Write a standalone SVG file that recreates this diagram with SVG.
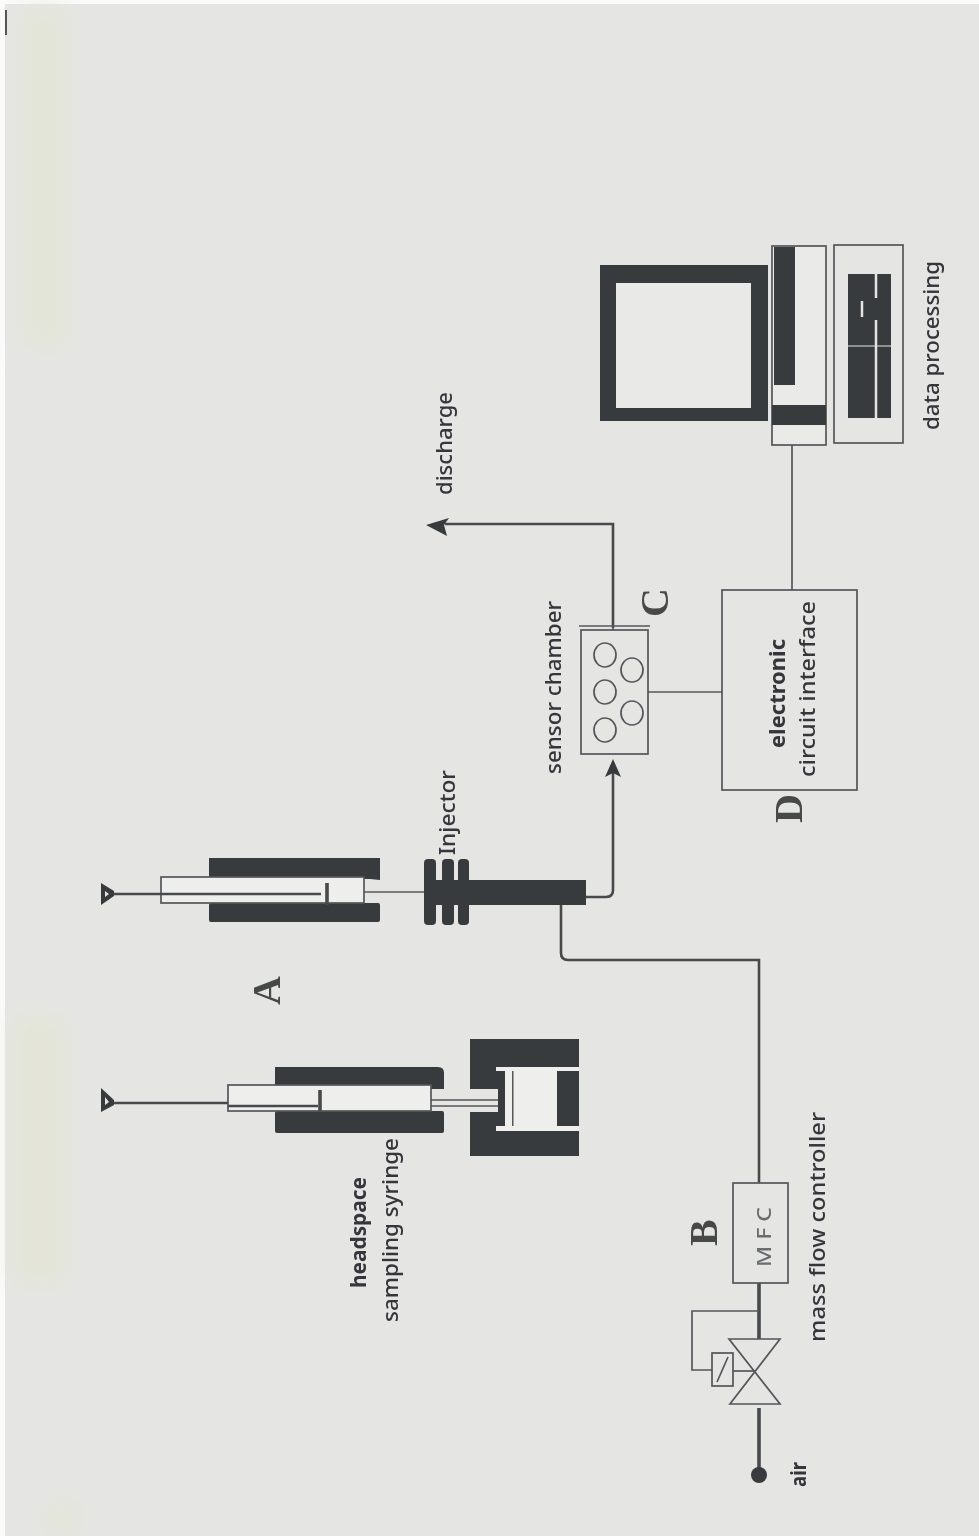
<svg xmlns="http://www.w3.org/2000/svg" width="979" height="1536" viewBox="0 0 979 1536">
<style>
.d{fill:#383a3c}
.bg{fill:#e5e5e4}
.o{fill:#e5e5e4;stroke:#54565a;stroke-width:1.7}
.n{fill:none;stroke:#54565a;stroke-width:1.7}
.w{fill:none;stroke:#46484c;stroke-width:2.6}
.h{fill:none;stroke:#46484c;stroke-width:3.6}
.t{font-family:"Noto Sans","DejaVu Sans",sans-serif;fill:#34363a;font-size:21px;font-weight:500}
.b{font-weight:700}
.l{font-family:"Liberation Serif",serif;fill:#46484a;font-size:40px;font-weight:700}
</style>
<defs>
<filter id="soft" filterUnits="userSpaceOnUse" x="0" y="0" width="979" height="1536"><feGaussianBlur stdDeviation="0.7"/></filter>
<filter id="patch" filterUnits="userSpaceOnUse" x="0" y="0" width="979" height="1536"><feGaussianBlur stdDeviation="12"/></filter>
</defs>
<rect width="979" height="1536" fill="#fbfbfb"/>
<rect class="bg" x="5" y="4" width="974" height="1532"/>
<g fill="#e4e5d8" filter="url(#patch)">
<rect x="22" y="8" width="45" height="340"/>
<rect x="12" y="1015" width="55" height="270"/>
<rect x="45" y="1500" width="35" height="36"/>
</g>
<rect x="5" y="10" width="2" height="25" fill="#55564f"/>
<g filter="url(#soft)">
<g id="connectors">
<path class="w" d="M586 897H606Q613 897 613 890V772"/>
<path class="w" d="M561 904V953Q561 960 568 960H759V1183"/>
<path class="h" d="M759 1283V1339"/>
<path class="h" d="M759 1408V1475"/>
<path class="n" d="M759 1311H692V1370H712"/>
<path class="w" d="M613 628V524H445"/>
<path class="n" d="M648 692H722"/>
<path class="n" d="M792 445V590"/>
<path class="d" d="M426 525L449 518L444 525L447 536Z"/>
<path class="d" d="M613 759L621 777L613 773L605 777Z"/>
</g>
<g id="syringe-injector">
<path class="d" d="M209 858H380V880L370 879H209Z"/>
<rect class="d" x="209" y="903" width="171" height="19" rx="2"/>
<rect class="o" x="161" y="877" width="203" height="26" style="fill:#eeeeec"/>
<path class="d" d="M101 883L114 891V896L101 905ZM105 891V897L109 894Z" fill-rule="evenodd"/>
<path class="w" d="M114 894H321"/>
<path class="h" d="M327 883V905"/>
<path class="n" d="M364 892H424"/>
<rect class="d" x="424" y="859" width="12" height="66" rx="4"/>
<rect class="d" x="442" y="859" width="12" height="66" rx="4"/>
<rect class="d" x="458" y="859" width="11" height="66" rx="4"/>
<rect class="d" x="424" y="880" width="162" height="25"/>
</g>
<g id="headspace-syringe">
<path class="d" d="M275 1067H438Q444 1067 444 1073V1089H275Z"/>
<rect class="d" x="275" y="1111" width="169" height="22" rx="2"/>
<rect class="o" x="228" y="1085" width="203" height="26" style="fill:#eeeeec"/>
<path class="d" d="M101 1088L114 1100V1105L101 1112ZM105 1097V1105L109 1102Z" fill-rule="evenodd"/>
<path class="w" d="M114 1103H228"/>
<path class="w" d="M228 1106H318"/>
<path class="h" d="M320 1090V1111"/>
<path class="n" d="M431 1100H498M431 1106H498"/>
<path class="d" d="M470 1039H579V1156H470V1112H498V1089H470Z"/>
<rect x="496" y="1067" width="83" height="4" fill="#eeeeec"/>
<rect x="496" y="1126" width="83" height="5" fill="#eeeeec"/>
<rect x="505" y="1071" width="7" height="55" fill="#eeeeec"/>
<rect x="513" y="1071" width="44" height="55" fill="#eeeeec"/>
<rect x="512" y="1071" width="1.5" height="55" fill="#54565a"/>
</g>
<g id="sensor-chamber">
<rect class="o" x="581" y="630" width="67" height="124"/>
<path class="n" d="M579 626H650"/>
<path class="n" d="M613 626V630"/>
<ellipse class="n" cx="605" cy="655" rx="11" ry="12"/>
<ellipse class="n" cx="632" cy="670" rx="11" ry="12"/>
<ellipse class="n" cx="605" cy="692" rx="11" ry="12"/>
<ellipse class="n" cx="632" cy="713" rx="11" ry="12"/>
<ellipse class="n" cx="605" cy="730" rx="11" ry="12"/>
</g>
<g id="electronic-circuit">
<rect class="o" x="722" y="590" width="135" height="200"/>
</g>
<g id="monitor">
<rect class="d" x="600" y="265" width="168" height="156"/>
<rect x="616" y="283" width="135" height="125" fill="#e9e9e8"/>
</g>
<g id="computer">
<rect class="o" x="772" y="246" width="54" height="199" style="fill:#eaeae9"/>
<rect class="d" x="774" y="247" width="21" height="138"/>
<rect class="d" x="772" y="405" width="54" height="20"/>
</g>
<g id="keyboard">
<rect class="o" x="834" y="245" width="69" height="198"/>
<rect class="d" x="848" y="274" width="43" height="144"/>
<path d="M876 274V298M876 320V418" stroke="#e5e5e4" stroke-width="2.5" fill="none"/>
<path d="M848 346H891" stroke="#e5e5e4" stroke-width="1.2" fill="none"/>
<path d="M862 301V317" stroke="#e5e5e4" stroke-width="2.5" fill="none"/>
</g>
<g id="mfc">
<rect class="o" x="733" y="1183" width="55" height="100"/>
<text class="t" transform="translate(771 1267) rotate(-90)" textLength="60" lengthAdjust="spacingAndGlyphs" style="font-size:19px;fill:#6a6c6e">M F C</text>
</g>
<g id="valve">
<path class="n" d="M729 1339H780L730 1404H780Z"/>
<path class="n" d="M733 1371H755"/>
<rect class="o" x="712" y="1353" width="21" height="33"/>
<path class="n" d="M717 1382L728 1357"/>
<circle cx="759" cy="1475" r="8" class="d"/>
</g>
<g id="labels">
<text class="t" transform="translate(452 495) rotate(-90)" textLength="103" lengthAdjust="spacingAndGlyphs">discharge</text>
<text class="t" transform="translate(939 430) rotate(-90)" textLength="169" lengthAdjust="spacingAndGlyphs">data processing</text>
<text class="t" transform="translate(561 774) rotate(-90)" textLength="173" lengthAdjust="spacingAndGlyphs">sensor chamber</text>
<text class="t b" transform="translate(785 748) rotate(-90)" textLength="109" lengthAdjust="spacingAndGlyphs">electronic</text>
<text class="t" transform="translate(815 777) rotate(-90)" textLength="176" lengthAdjust="spacingAndGlyphs">circuit interface</text>
<text class="t" transform="translate(825 1342) rotate(-90)" textLength="230" lengthAdjust="spacingAndGlyphs">mass flow controller</text>
<text class="t b" transform="translate(806 1487) rotate(-90)" textLength="25" lengthAdjust="spacingAndGlyphs">air</text>
<text class="t b" transform="translate(366 1288) rotate(-90)" textLength="111" lengthAdjust="spacingAndGlyphs">headspace</text>
<text class="t" transform="translate(398 1322) rotate(-90)" textLength="184" lengthAdjust="spacingAndGlyphs">sampling syringe</text>
<text class="t" transform="translate(455 855) rotate(-90)" textLength="85" lengthAdjust="spacingAndGlyphs">Injector</text>
<text class="l" transform="translate(280 1005) rotate(-90)">A</text>
<text class="l" transform="translate(717 1246) rotate(-90)">B</text>
<text class="l" transform="translate(668 617) rotate(-90)">C</text>
<text class="l" transform="translate(802 823) rotate(-90)">D</text>
</g>
</g>
</svg>
